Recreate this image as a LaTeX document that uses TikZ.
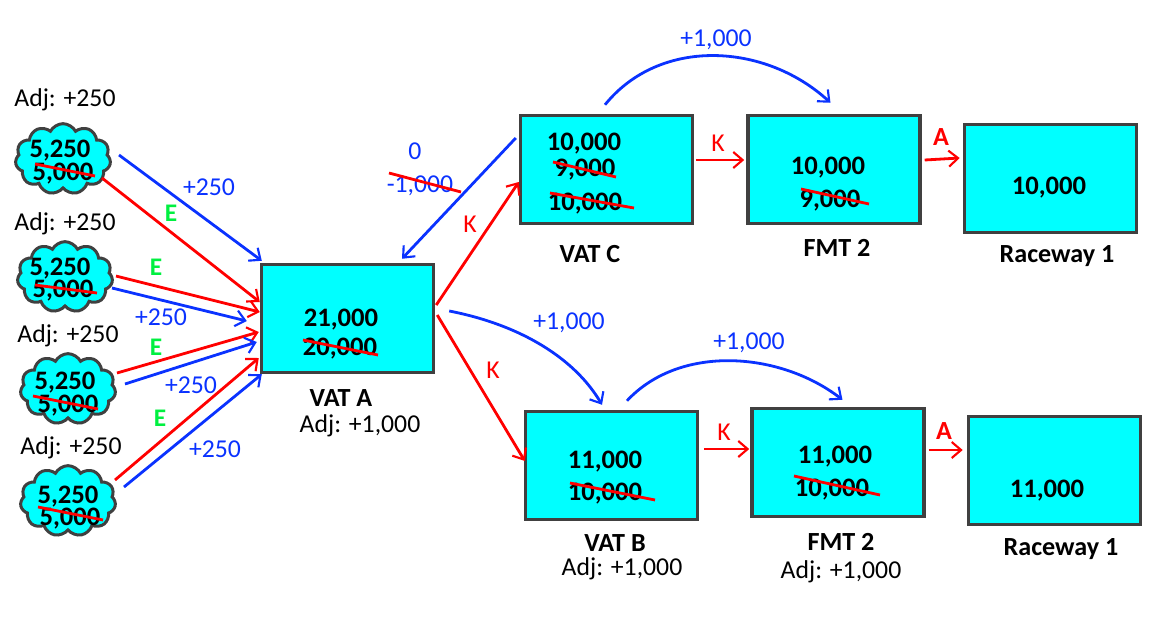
\documentclass[tikz,border=0pt]{standalone}
\usepackage{fontspec}
\setmainfont{Carlito}
\usepackage{xcolor}
\usetikzlibrary{positioning,arrows.meta,calc,shapes.symbols}
\definecolor{fillcol}{HTML}{00FFFF}
\definecolor{edgecol}{HTML}{404040}
\definecolor{bluecol}{HTML}{0A32FF}
\definecolor{redcol}{HTML}{FF0000}
\definecolor{greencol}{HTML}{00F040}

\begin{document}
\begin{tikzpicture}[
   x=0.75pt,y=-0.75pt,
   font=\fontsize{19.3}{21}\selectfont,
   >={Straight Barb[length=7pt,width=12pt,line width=1.6pt]},
   box/.style={draw=edgecol,line width=2.6pt,fill=fillcol,minimum width=129pt,
               minimum height=81pt,inner sep=0pt},
   puff/.style={draw=edgecol,line width=2.25pt,fill=fillcol,cloud,cloud puffs=11,
                cloud puff arc=125,aspect=1.35,minimum width=71.5pt,minimum height=53pt,inner sep=0pt},
   num/.style={font=\fontsize{20}{21}\selectfont\bfseries,inner sep=0pt,yshift=-1.5pt},
   title/.style={font=\fontsize{19.6}{21}\selectfont\bfseries,inner sep=0pt,yshift=-1.5pt},
   note/.style={inner sep=0pt,yshift=-1.5pt},
   bluetxt/.style={text=bluecol,inner sep=0pt,yshift=-1.5pt},
   redtxt/.style={text=redcol,inner sep=0pt,yshift=-1.5pt},
   etxt/.style={text=greencol,font=\fontsize{19}{21}\selectfont\bfseries,inner sep=0pt},
   redline/.style={->,redcol,line width=2.1pt},
   blueline/.style={->,bluecol,line width=2.1pt},
   strike/.style={redcol,line width=2.1pt},
]
\useasboundingbox (0,0) rectangle (1157,618);

% boxes
\node[box] (vatA) at (347.5,318.5) {};
\node[box] (vatC) at (606.5,169.5) {};
\node[box,right=39pt of vatC] (fmtT) {};
\node[box,right=30.75pt of fmtT,yshift=-6.75pt] (raceT) {};
\node[box] (vatB) at (611.5,465.5) {};
\node[box,right=38.25pt of vatB,yshift=2.25pt] (fmtB) {};
\node[box,right=30.75pt of fmtB,yshift=-6pt] (raceB) {};

% clouds
\node[puff] (pondA) at (63,159) {};
\node[puff] (pondB) at (65,277) {};
\node[puff] (pondC) at (68,389) {};
\node[puff] (pondD) at (68,501) {};

% numbers in the clouds
\node[num] (newA) at (60,149) {5,250};
\node[num] (oldA) at (63,172) {5,000};
\node[num] (newB) at (60,267) {5,250};
\node[num] (oldB) at (63,289) {5,000};
\node[num] (newC) at (65,381) {5,250};
\node[num] (oldC) at (68,404) {5,000};
\node[num] (newD) at (68,495) {5,250};
\node[num] (oldD) at (70,517) {5,000};

% numbers in the boxes
\node[num] (a1) at (341,318) {21,000};
\node[num] (a2) at (340,347) {20,000};
\node[num] (c1) at (584,142) {10,000};
\node[num] (c2) at (585,168) {9,000};
\node[num] (c3) at (585,202) {10,000};
\node[num] (ft1) at (828,166) {10,000};
\node[num] (ft2) at (830,199) {9,000};
\node[num] (rt1) at (1049,186) {10,000};
\node[num] (b1) at (605,460) {11,000};
\node[num] (b2) at (605,492) {10,000};
\node[num] (fb1) at (835,455) {11,000};
\node[num] (fb2) at (832,488) {10,000};
\node[num] (rb1) at (1047,489) {11,000};

% titles
\node[title] (tA) at (341,396) {VAT A};
\node[title] (tC) at (590,252) {VAT C};
\node[title] (tFT) at (837,246) {FMT 2};
\node[title] (tRT) at (1057,254) {Raceway 1};
\node[title] (tB) at (615,541) {VAT B};
\node[title] (tFB) at (841,540) {FMT 2};
\node[title] (tRB) at (1061,547) {Raceway 1};

% adjustments
\node[note] (adjA) at (65,98) {Adj: +250};
\node[note] (adjB) at (65,222) {Adj: +250};
\node[note] (adjC) at (68,334) {Adj: +250};
\node[note] (adjD) at (71,446) {Adj: +250};
\node[note] (adjV) at (360,424) {Adj: +1,000};
\node[note] (adjW) at (622,567) {Adj: +1,000};
\node[note] (adjF) at (841,570) {Adj: +1,000};

% transfers into VAT A
\draw[blueline] ($(pondA.center)+(56,-4)$) -- ($(vatA.north west)+(2,-2)$);
\draw[redline] ($(pondA.center)+(39,19)$) -- ($(vatA.west)+(0,-16.5)$);
\draw[redline] ($(pondB.center)+(51,-1)$) -- ($(vatA.west)+(0,-6.5)$);
\draw[blueline] ($(pondB.center)+(47,11)$) -- ($(vatA.west)+(-13,2.5)$);
\draw[redline] ($(pondC.center)+(49,-16)$) -- ($(vatA.west)+(-1,13.5)$);
\draw[blueline] ($(pondC.center)+(57,-5)$) -- ($(vatA.west)+(-3,23.5)$);
\draw[redline] ($(pondD.center)+(47,-21)$) -- ($(vatA.west)+(-1,39.5)$);
\draw[blueline] ($(pondD.center)+(56,-14)$) -- ($(vatA.south west)+(2,0)$);

% transfers between the vats
\draw[blueline] ($(vatC.west)+(-3,-31.5)$) -- ($(vatA.north)+(54.5,-4)$);
\draw[redline] ($(vatA.east)+(1,-13.5)$) -- ($(vatC.west)+(0,12.5)$);
\draw[redline] ($(vatA.east)+(2,-3.5)$) -- ($(vatB.west)+(1,-4.5)$);
\draw[blueline] ($(vatA.east)+(14,-7.5)$) .. controls +(72,14) and +(-27,-46) .. ($(vatB.north)+(-9.5,-5)$);

% top line
\draw[redline] ($(vatC.east)+(2,-9.5)$) -- ($(fmtT.west)+(-2,-9.5)$);
\draw[redline] ($(fmtT.east)+(3,-9.5)$) -- ($(raceT.west)+(-3,-20.5)$);
\draw[blueline] ($(vatC.north)+(-1.5,-9)$) .. controls +(55,-68) and +(-65,-60) .. ($(fmtT.north)+(-3.5,-11)$);

% bottom line
\draw[redline] ($(vatB.east)+(5,-16.5)$) -- ($(fmtB.west)+(-1,-13.5)$);
\draw[redline] ($(fmtB.east)+(3,-12.5)$) -- ($(raceB.west)+(-4,-20.5)$);
\draw[blueline] ($(vatB.north)+(15.5,-9)$) .. controls +(53,-57) and +(-62,-48) .. ($(fmtB.north)+(4.5,-7)$);

% connector labels
\node[bluetxt] (l1) at (209,185) {+250};
\node[bluetxt] (l2) at (161,315) {+250};
\node[bluetxt] (l3) at (191,383) {+250};
\node[bluetxt] (l4) at (215,447) {+250};
\node[etxt] (e1) at (171,213) {E};
\node[etxt] (e2) at (156,267) {E};
\node[etxt] (e3) at (156,347) {E};
\node[etxt] (e4) at (160,418) {E};
\node[bluetxt] (zero) at (415,149) {0};
\node[bluetxt] (minus) at (420,184) {-1,000};
\node[bluetxt] (p1) at (716,38) {+1,000};
\node[bluetxt] (p2) at (569,321) {+1,000};
\node[bluetxt] (p3) at (749,341) {+1,000};
\node[redtxt] (k1) at (470,222) {K};
\node[redtxt] (k2) at (493,368) {K};
\node[redtxt] (k3) at (718,141) {K};
\node[redtxt] (k4) at (724,430) {K};
\node[redtxt,font=\fontsize{19.6}{21}\selectfont\bfseries] (a3) at (941,135) {A};
\node[redtxt,font=\fontsize{19.6}{21}\selectfont\bfseries] (a4) at (944,429) {A};

% strike-outs
\draw[strike] ($(oldA.center)+(-28,-10)$) -- ($(oldA.center)+(32,2)$);
\draw[strike] ($(oldB.center)+(-28,-6)$) -- ($(oldB.center)+(34,2)$);
\draw[strike] ($(oldC.center)+(-35,-10)$) -- ($(oldC.center)+(30,3)$);
\draw[strike] ($(oldD.center)+(-32,-12)$) -- ($(oldD.center)+(33,1)$);
\draw[strike] ($(a2.center)+(-37,-9)$) -- ($(a2.center)+(38,6)$);
\draw[strike] ($(c2.center)+(-32,-8)$) -- ($(c2.center)+(31,7)$);
\draw[strike] ($(c3.center)+(-35,-11)$) -- ($(c3.center)+(49,4)$);
\draw[strike] ($(ft2.center)+(-29,-12)$) -- ($(ft2.center)+(39,3)$);
\draw[strike] ($(b2.center)+(-35,-11)$) -- ($(b2.center)+(50,6)$);
\draw[strike] ($(fb2.center)+(-38,-14)$) -- ($(fb2.center)+(48,5)$);
\draw[strike] ($(minus.center)+(-31,-13)$) -- ($(minus.center)+(41,6)$);

\end{tikzpicture}
\end{document}
